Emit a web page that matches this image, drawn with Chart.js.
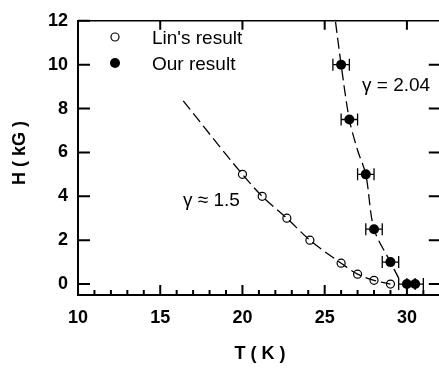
<!DOCTYPE html>
<html>
<head>
<meta charset="utf-8">
<script src="https://cdn.jsdelivr.net/npm/chart.js@4.4.1/dist/chart.umd.min.js"></script>
<style>
  html, body { margin: 0; padding: 0; background: #fff; overflow: hidden; }
  #wrap { width: 445px; height: 371px; }
</style>
</head>
<body>
<div id="wrap"><canvas id="chart" width="445" height="371"></canvas></div>
<script>
// DATA
const linT = [20.0, 21.2, 22.7, 24.1, 26.0, 27.0, 28.0, 29.0];
const linH = [5.0, 4.0, 3.0, 2.0, 0.95, 0.45, 0.17, 0.0];

const ourT = [26.0, 26.5, 27.5, 28.0, 29.0, 30.0, 30.5];
const ourH = [10.0, 7.5, 5.0, 2.5, 1.0, 0.0, 0.0];
const ourErrT = [0.5, 0.5, 0.5, 0.5, 0.5, 0.5, 0.5];

// dashed fit curves
const linFitT = [16.4, 20.0, 21.2, 22.7, 24.1, 26.0, 27.0, 28.0, 29.0];
const linFitH = [8.35, 5.0, 4.0, 3.0, 2.0, 0.95, 0.45, 0.17, 0.0];
const ourFitT = [25.66, 26.0, 26.5, 27.0, 27.5, 28.0, 29.0, 29.5];
const ourFitH = [11.95, 10.0, 7.5, 6.1, 5.0, 2.5, 1.0, 0.27];

const xTicks = [10, 15, 20, 25, 30];
const yTicks = [0, 2, 4, 6, 8, 10, 12];

const toPts = (xs, ys) => xs.map((x, i) => ({ x: x, y: ys[i] }));

// inward ticks, top/right frame, error bars, legend, labels
const decor = {
  id: "decor",
  beforeDatasetsDraw(chart) {
    const c = chart.ctx, x = chart.scales.x, y = chart.scales.y;
    c.save();
    c.strokeStyle = "#000";
    // error bars
    c.lineWidth = 1.3;
    ourT.forEach((t, i) => {
      const x1 = x.getPixelForValue(t - ourErrT[i]);
      const x2 = x.getPixelForValue(t + ourErrT[i]);
      const py = y.getPixelForValue(ourH[i]);
      c.beginPath();
      c.moveTo(x1, py); c.lineTo(x2, py);
      c.moveTo(x1, py - 6); c.lineTo(x1, py + 6);
      c.moveTo(x2, py - 6); c.lineTo(x2, py + 6);
      c.stroke();
    });
    c.restore();
  },
  afterDraw(chart) {
    const c = chart.ctx, x = chart.scales.x, y = chart.scales.y, a = chart.chartArea;
    c.save();
    c.strokeStyle = "#000";
    // frame top / right
    c.lineWidth = 1.5;
    c.beginPath();
    c.moveTo(a.left, a.top); c.lineTo(a.right, a.top); c.lineTo(a.right, a.bottom);
    c.stroke();
    c.lineWidth = 2;
    c.beginPath();
    // bottom ticks
    for (let t = 11; t <= 31; t++) {
      const px = x.getPixelForValue(t);
      c.moveTo(px, a.bottom); c.lineTo(px, a.bottom - 5);
    }
    xTicks.forEach(t => {
      const px = x.getPixelForValue(t);
      c.moveTo(px, a.bottom); c.lineTo(px, a.bottom - 10);
      if (t > 10) { c.moveTo(px, a.top); c.lineTo(px, a.top + 9); }
    });
    yTicks.forEach(v => {
      const py = y.getPixelForValue(v);
      c.moveTo(a.left, py); c.lineTo(a.left + 12, py);
      if (v < 12) { c.moveTo(a.right, py); c.lineTo(a.right - 11, py); }
    });
    c.stroke();

    // legend
    c.lineWidth = 1.2;
    c.beginPath(); c.arc(115, 37, 4, 0, Math.PI * 2); c.fillStyle = "#fff"; c.fill(); c.stroke();
    c.beginPath(); c.arc(115, 63, 5, 0, Math.PI * 2); c.fillStyle = "#000"; c.fill();
    c.fillStyle = "#000";
    c.font = "19px 'Liberation Sans', Arial, sans-serif";
    c.textAlign = "left"; c.textBaseline = "middle";
    c.fillText("Lin's result", 152, 39);
    c.fillText("Our result", 152, 65);
    // exponents
    c.fillText("\u03b3 = 2.04", 362, 86);
    c.fillText("\u03b3 \u2248 1.5", 183, 201);

    // axis titles
    c.font = "bold 18px 'Liberation Sans', Arial, sans-serif";
    c.textAlign = "center";
    c.fillText("T ( K )", 260, 354);
    c.translate(20, 153);
    c.rotate(-Math.PI / 2);
    c.fillText("H ( kG )", 0, 0);
    c.restore();
  }
};

const tickFont = { family: "'Liberation Sans', Arial, sans-serif", size: 18, weight: "bold" };

new Chart(document.getElementById("chart"), {
  type: "scatter",
  data: {
    datasets: [
      {
        label: "Lin fit",
        data: toPts(linFitT, linFitH),
        showLine: true,
        borderColor: "#000",
        borderWidth: 1.3,
        borderDash: [11, 5],
        cubicInterpolationMode: "monotone",
        pointRadius: 0
      },
      {
        label: "Our fit",
        data: toPts(ourFitT, ourFitH),
        showLine: true,
        borderColor: "#000",
        borderWidth: 1.3,
        borderDash: [11, 5],
        tension: 0.3,
        pointRadius: 0
      },
      {
        label: "Lin's result",
        data: toPts(linT, linH),
        pointRadius: 4,
        pointBorderWidth: 1.2,
        pointBackgroundColor: "#fff",
        pointBorderColor: "#000"
      },
      {
        label: "Our result",
        data: toPts(ourT, ourH),
        pointRadius: 5,
        pointBorderWidth: 0,
        pointBackgroundColor: "#000",
        pointBorderColor: "#000"
      }
    ]
  },
  options: {
    responsive: false,
    animation: false,
    layout: { padding: { top: 11, right: 3, left: 0, bottom: 0 } },
    plugins: { legend: { display: false }, tooltip: { enabled: false } },
    scales: {
      x: {
        type: "linear",
        min: 10,
        max: 32,
        grid: { display: false, drawTicks: false },
        border: { display: true, color: "#000", width: 2 },
        ticks: { color: "#000", font: tickFont, padding: 12 },
        afterBuildTicks: s => { s.ticks = xTicks.map(v => ({ value: v })); },
        afterFit: s => { s.height = 76; }
      },
      y: {
        type: "linear",
        min: -0.5,
        max: 12,
        grid: { display: false, drawTicks: false },
        border: { display: true, color: "#000", width: 2 },
        ticks: { color: "#000", font: tickFont, padding: 10 },
        afterBuildTicks: s => { s.ticks = yTicks.map(v => ({ value: v })); },
        afterFit: s => { s.width = 78; }
      }
    }
  },
  plugins: [decor]
});
</script>
</body>
</html>
